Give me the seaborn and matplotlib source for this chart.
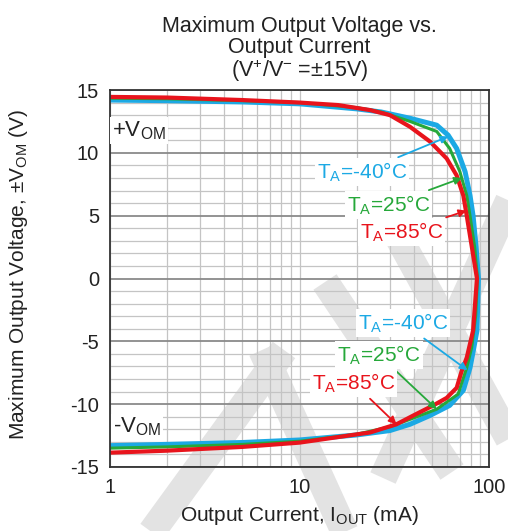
import numpy as np
import pandas as pd
import matplotlib
matplotlib.use("Agg")
import matplotlib.pyplot as plt
import seaborn as sns
from matplotlib.ticker import MultipleLocator, NullFormatter, LogLocator
from matplotlib.lines import Line2D

# --- data (I in mA, V in volts) ---
# each curve: upper branch (+VOM) from 1 mA out to max current, then lower branch (-VOM) back to 1 mA
cur_m40 = [1, 2, 5, 10, 20, 27, 38.3, 53, 60.9, 67.5, 74.8, 79.4, 82.4, 85.5, 88,
           86.4, 82.5, 79.4, 73.2, 62, 48.8, 38.3, 30, 20, 10, 5, 2, 1]
vol_m40 = [14.2, 14.15, 14.05, 13.9, 13.5, 13.25, 12.75, 12.2, 11.4, 10.35, 8.5, 6.6, 5.0, 2.5, 0,
           -4.15, -5.8, -7.1, -8.9, -10.1, -10.9, -11.6, -12.1, -12.45, -12.85, -13.05, -13.2, -13.3]

cur_25 = [1, 2, 5, 10, 20, 27, 38.3, 53, 62, 70.2, 76.3, 79.4, 84, 87,
          85, 81, 76.3, 68.7, 53, 40, 30, 20, 10, 5, 2, 1]
vol_25 = [14.35, 14.3, 14.15, 14.0, 13.6, 13.25, 12.5, 11.7, 10.35, 8.5, 6.6, 5.0, 2.5, 0,
          -3.0, -5.5, -7.1, -9.2, -10.4, -11.1, -11.8, -12.4, -12.95, -13.2, -13.4, -13.5]

cur_85 = [1, 2, 5, 10, 16, 23.6, 30, 38.3, 48.8, 59.8, 67.5, 73.2, 76.3, 86.4,
          82.4, 76.3, 71.8, 67.5, 59.8, 50.8, 39.9, 32.5, 23.6, 10, 5, 2, 1]
vol_85 = [14.45, 14.4, 14.2, 14.0, 13.8, 13.4, 13.0, 12.07, 10.9, 9.55, 8.2, 6.6, 5.0, 0,
          -4.15, -6.3, -7.35, -8.7, -9.5, -10.1, -10.9, -11.6, -12.25, -13.06, -13.4, -13.7, -13.86]

temps = ["-40", "25", "85"]
colors = {"-40": "#1ca9e4", "25": "#26a83a", "85": "#e8141c"}
widths = {"-40": 3.6, "25": 2.2, "85": 3.0}

# label text positions (axes fraction) and arrow targets (data)
lbl_up_xy = {"-40": (0.546, 0.782), "25": (0.625, 0.695), "85": (0.66, 0.623)}
arr_up = {"-40": (61, 11.3), "25": (72, 8.0), "85": (76, 5.4)}
lbl_lo_xy = {"-40": (0.654, 0.382), "25": (0.600, 0.297), "85": (0.533, 0.223)}
arr_lo = {"-40": (77, -7.3), "25": (53, -10.4), "85": (32.5, -11.6)}

xticks = [1, 10, 100]
yticks = [-15, -10, -5, 0, 5, 10, 15]

df = pd.concat([
    pd.DataFrame({"current": cur_m40, "voltage": vol_m40, "temp": "-40"}),
    pd.DataFrame({"current": cur_25, "voltage": vol_25, "temp": "25"}),
    pd.DataFrame({"current": cur_85, "voltage": vol_85, "temp": "85"}),
], ignore_index=True)

sns.set_theme(style="white")
plt.rcParams["font.family"] = ["Liberation Sans", "DejaVu Sans"]
plt.rcParams["mathtext.fontset"] = "custom"
plt.rcParams["mathtext.rm"] = "Liberation Sans"
plt.rcParams["axes.unicode_minus"] = False

W, H = 508, 531
fig = plt.figure(figsize=(W / 100, H / 100), dpi=100, facecolor="white")
ax = fig.add_axes([110 / W, 1 - 467 / H, 379 / W, 377 / H])
ax.set_facecolor("none")

# watermark stripes (figure pixels, y down) - decoration only
stripes = [(140, 548, 284, 350), (262, 350, 352, 548), (325, 282, 452, 472),
           (383, 478, 532, 150), (378, 200, 525, 468)]
for x0, y0, x1, y1 in stripes:
    fig.add_artist(Line2D([x0 / W, x1 / W], [1 - y0 / H, 1 - y1 / H], transform=fig.transFigure,
                          color="#e3e3e3", lw=20, solid_capstyle="butt", zorder=-1))

for t in temps:
    sub = df[df["temp"] == t]
    sns.lineplot(data=sub, x="current", y="voltage", sort=False, estimator=None,
                 color=colors[t], lw=widths[t], ax=ax, zorder=3, legend=False)

ax.set_xscale("log")
ax.set_xlim(1, 100)
ax.set_ylim(-15, 15)
ax.set_xticks(xticks)
ax.set_xticklabels([str(v) for v in xticks])
ax.xaxis.set_minor_locator(LogLocator(base=10, subs=np.arange(2, 10)))
ax.xaxis.set_minor_formatter(NullFormatter())
ax.set_yticks(yticks)
ax.yaxis.set_minor_locator(MultipleLocator(1))

ax.grid(which="major", axis="y", color="#8a8a8a", lw=1.3, zorder=1)
ax.grid(which="minor", axis="y", color="#c4c4c4", lw=0.9, zorder=1)
ax.grid(which="major", axis="x", color="#c4c4c4", lw=0.9, zorder=1)
ax.grid(which="minor", axis="x", color="#c4c4c4", lw=0.9, zorder=1)
ax.set_axisbelow(True)
ax.tick_params(which="both", length=0, labelsize=14.5, colors="#222222", pad=8)
for s in ax.spines.values():
    s.set_color("#333333")
    s.set_linewidth(1.3)
    s.set_zorder(4)

ax.set_xlabel(r"Output Current, I$_{\mathregular{OUT}}$ (mA)", fontsize=15, color="#222222")
ax.set_ylabel(r"Maximum Output Voltage, ±V$_{\mathregular{OM}}$ (V)", fontsize=15, color="#222222")
ax.xaxis.set_label_coords(0.5, -0.098)
ax.yaxis.set_label_coords(-0.21, 0.51)

ax.set_title("Maximum Output Voltage vs.\nOutput Current\n" + r"(V$^{\mathregular{+}}$/V$^{\mathregular{-}}$ =±15V)",
             fontsize=15.5, color="#222222", linespacing=1.0, pad=9)

box = dict(boxstyle="square,pad=0.1", fc="white", ec="none")
for t in temps:
    txt = r"T$_{\mathregular{A}}$=" + t + "°C"
    for lbl_xy, target in ((lbl_up_xy, arr_up), (lbl_lo_xy, arr_lo)):
        ax.annotate(txt, xy=target[t], xycoords="data", xytext=lbl_xy[t], textcoords="axes fraction",
                    ha="left", va="center", fontsize=15, color=colors[t], bbox=box, zorder=5,
                    arrowprops=dict(arrowstyle="-|>", color=colors[t], lw=1.3, mutation_scale=11,
                                    shrinkA=2, shrinkB=0))

ax.text(0.006, 0.893, r"+V$_{\mathregular{OM}}$", transform=ax.transAxes, ha="left", va="center",
        fontsize=16, color="#222222", bbox=box, zorder=5)
ax.text(0.008, 0.106, r"-V$_{\mathregular{OM}}$", transform=ax.transAxes, ha="left", va="center",
        fontsize=16, color="#222222", bbox=box, zorder=5)

fig.savefig("out.png", dpi=100, facecolor="white")
